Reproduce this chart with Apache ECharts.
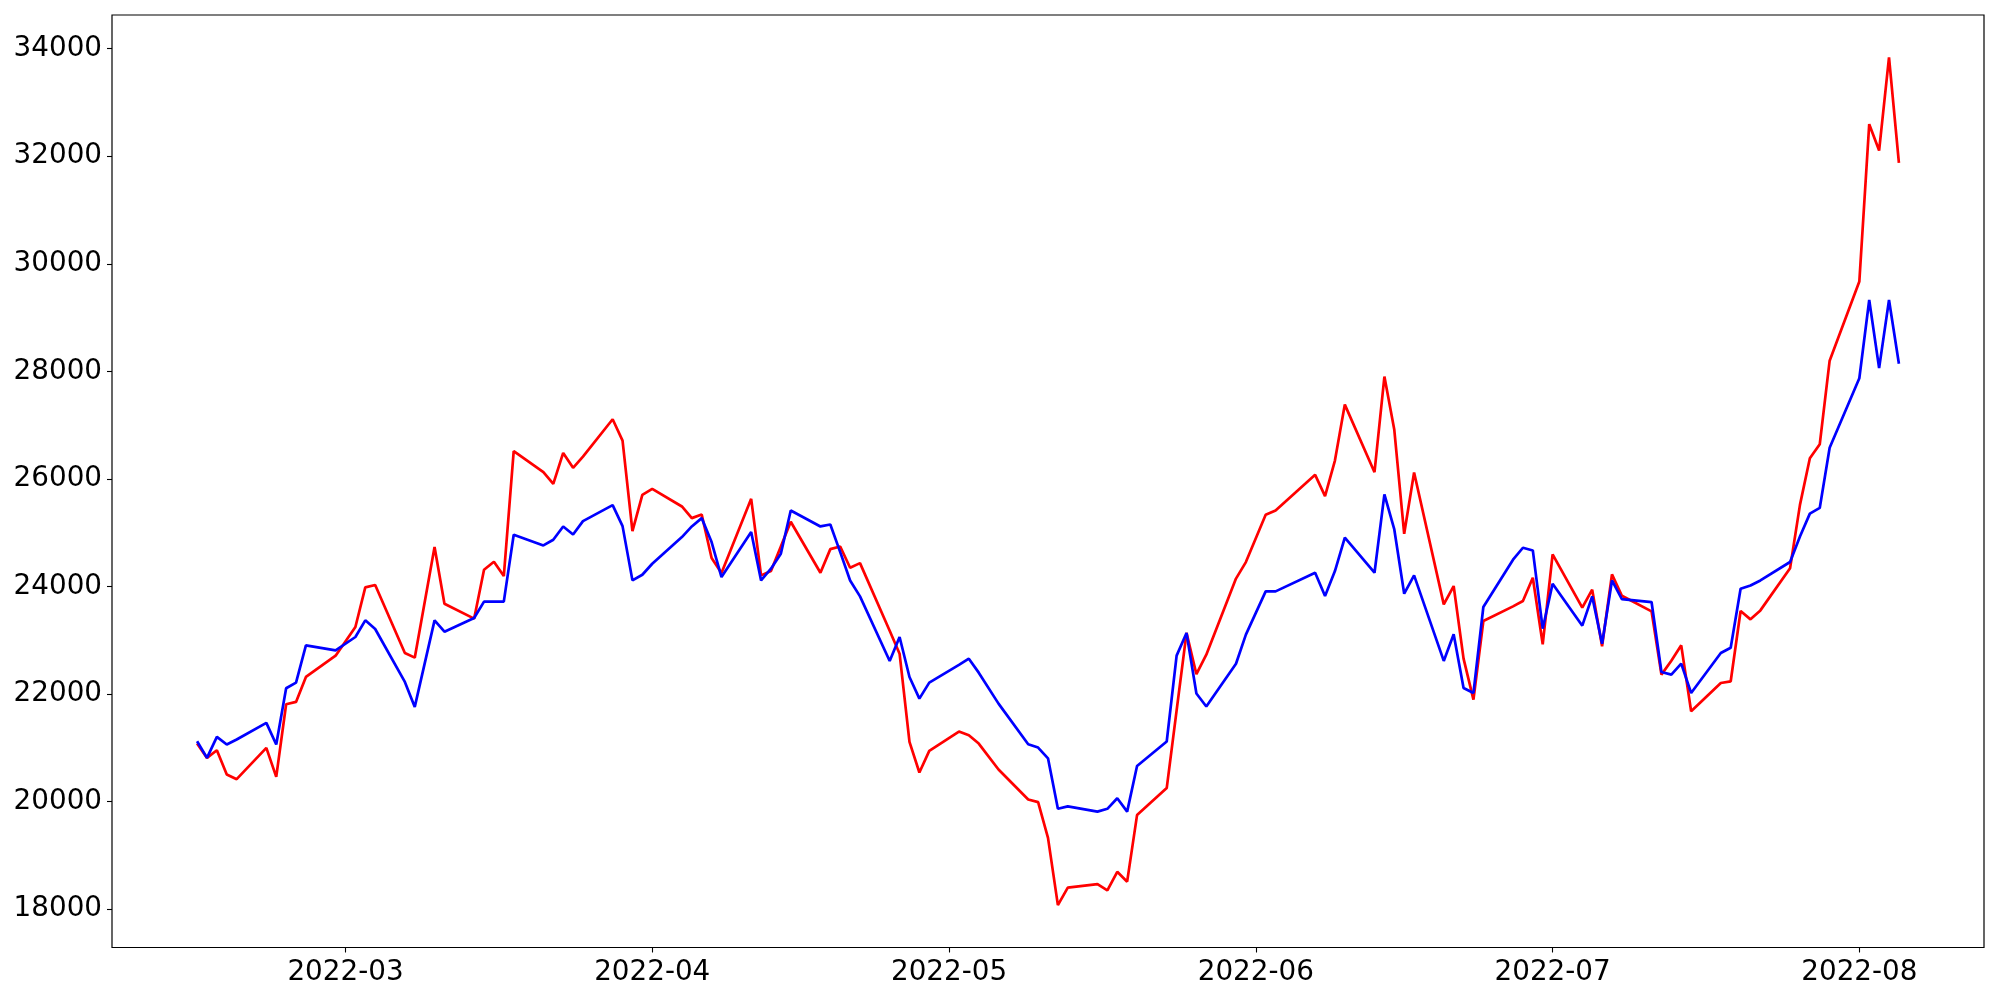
<!DOCTYPE html>
<html>
<head>
<meta charset="utf-8">
<script src="https://cdn.jsdelivr.net/npm/echarts@6/dist/echarts.min.js"></script>
<style>
html,body{margin:0;padding:0;background:#fff;}
#chart{width:2000px;height:1000px;}
</style>
</head>
<body>
<div id="chart"></div>
<script>
const dates = [
'2022-02-14','2022-02-15','2022-02-16','2022-02-17','2022-02-18','2022-02-21','2022-02-22','2022-02-23','2022-02-24','2022-02-25','2022-02-28',
'2022-03-02','2022-03-03','2022-03-04','2022-03-07','2022-03-08','2022-03-10','2022-03-11','2022-03-14','2022-03-15','2022-03-16','2022-03-17','2022-03-18',
'2022-03-21','2022-03-22','2022-03-23','2022-03-24','2022-03-25','2022-03-28','2022-03-29','2022-03-30','2022-03-31','2022-04-01',
'2022-04-04','2022-04-05','2022-04-06','2022-04-07','2022-04-08','2022-04-11','2022-04-12','2022-04-13','2022-04-14','2022-04-15',
'2022-04-18','2022-04-19','2022-04-20','2022-04-21','2022-04-22','2022-04-25','2022-04-26','2022-04-27','2022-04-28','2022-04-29',
'2022-05-02','2022-05-03','2022-05-04','2022-05-06','2022-05-09','2022-05-10','2022-05-11','2022-05-12','2022-05-13',
'2022-05-16','2022-05-17','2022-05-18','2022-05-19','2022-05-20','2022-05-23','2022-05-24','2022-05-25','2022-05-26','2022-05-27',
'2022-05-30','2022-05-31','2022-06-02','2022-06-03','2022-06-07','2022-06-08','2022-06-09','2022-06-10',
'2022-06-13','2022-06-14','2022-06-15','2022-06-16','2022-06-17','2022-06-20','2022-06-21','2022-06-22','2022-06-23','2022-06-24',
'2022-06-27','2022-06-28','2022-06-29','2022-06-30','2022-07-01','2022-07-04','2022-07-05','2022-07-06','2022-07-07','2022-07-08',
'2022-07-11','2022-07-12','2022-07-13','2022-07-14','2022-07-15','2022-07-18','2022-07-19','2022-07-20','2022-07-21','2022-07-22',
'2022-07-25','2022-07-26','2022-07-27','2022-07-28','2022-07-29','2022-08-01','2022-08-02','2022-08-03','2022-08-04','2022-08-05'
];
const redValues = [
21078,20811,20954,20502,20415,20997,20459,21808,21852,22316,22712,
23245,23982,24025,22762,22675,24731,23678,23400,24310,24459,24192,26514,
26124,25907,26483,26205,26415,27109,26712,25028,25703,25815,
25486,25270,25338,24527,24248,25629,24205,24285,24743,25202,
24254,24693,24743,24347,24433,23176,22749,21108,20539,20941,
21300,21232,21077,20594,20037,19988,19324,18073,18398,
18463,18346,18692,18509,19747,20249,21695,23135,22367,22731,
24145,24452,25332,25412,26075,25679,26341,27381,
26124,27902,26911,24979,26118,23666,24007,22657,21895,23357,
23629,23728,24162,22923,24595,23604,23939,22886,24223,23826,
23535,22359,22619,22904,21678,22204,22235,23542,23387,23554,
24339,25516,26383,26644,28198,29669,32596,32105,33838,31876
];
const blueValues = [
21121,20811,21202,21059,21152,21462,21059,22106,22211,22904,22811,
23059,23369,23208,22223,21759,23369,23158,23412,23716,23716,23716,24960,
24762,24867,25115,24966,25214,25511,25121,24112,24217,24421,
24917,25115,25270,24824,24174,25010,24112,24329,24607,25412,
25115,25152,24638,24111,23814,22613,23059,22316,21913,22210,
22539,22656,22396,21820,21065,21003,20803,19864,19910,
19812,19864,20060,19812,20659,21116,22712,23135,22008,21767,
22562,23103,23908,23908,24254,23821,24285,24905,
24254,25710,25059,23864,24205,22614,23109,22112,22019,23617,
24496,24719,24669,23214,24050,23270,23815,22935,24111,23764,
23709,22408,22359,22563,22018,22761,22860,23956,24018,24111,
24454,24928,25353,25459,26579,27871,29326,28059,29326,28141
];
const xTickLabels = ['2022-03','2022-04','2022-05','2022-06','2022-07','2022-08'];
const yTickValues = [18000,20000,22000,24000,26000,28000,30000,32000,34000];

function toTs(s){ const p = s.split('-').map(Number); return Date.UTC(p[0], p[1]-1, p[2] || 1); }
const xTicks = xTickLabels.map(toTs);
const tickLabelMap = {};
xTickLabels.forEach((l, i) => { tickLabelMap[xTicks[i]] = l; });
const margin = (v) => 0.05 * (v.max - v.min);
const font = 'DejaVu Sans';

const chart = echarts.init(document.getElementById('chart'), null, {renderer: 'canvas'});
chart.setOption({
  animation: false,
  backgroundColor: '#ffffff',
  grid: {left: 112, right: 16, top: 15, bottom: 52.5, show: true, borderColor: '#000', borderWidth: 1.2, backgroundColor: 'transparent'},
  xAxis: {
    type: 'value',
    scale: true,
    min: v => v.min - margin(v),
    max: v => v.max + margin(v),
    axisLine: {show: false},
    splitLine: {show: false},
    axisTick: {show: true, inside: false, length: 5, lineStyle: {color: '#000', width: 1.1}, customValues: xTicks},
    axisLabel: {
      show: true, color: '#000', fontSize: 27.8, fontFamily: font, margin: 11,
      customValues: xTicks,
      formatter: (val) => tickLabelMap[val] !== undefined ? tickLabelMap[val] : ''
    }
  },
  yAxis: {
    type: 'value',
    scale: true,
    min: v => v.min - margin(v),
    max: v => v.max + margin(v),
    axisLine: {show: false},
    splitLine: {show: false},
    axisTick: {show: true, inside: false, length: 5, lineStyle: {color: '#000', width: 1.1}, customValues: yTickValues},
    axisLabel: {show: true, color: '#000', fontSize: 27.8, fontFamily: font, margin: 10, customValues: yTickValues, formatter: v => String(v)}
  },
  series: [
    {type: 'line', data: dates.map((d,i) => [toTs(d), redValues[i]]), showSymbol: false, symbol: 'none',
     lineStyle: {color: '#ff0000', width: 2.7}, itemStyle: {color: '#ff0000'}, z: 2},
    {type: 'line', data: dates.map((d,i) => [toTs(d), blueValues[i]]), showSymbol: false, symbol: 'none',
     lineStyle: {color: '#0000ff', width: 2.7}, itemStyle: {color: '#0000ff'}, z: 3}
  ]
});
</script>
</body>
</html>
